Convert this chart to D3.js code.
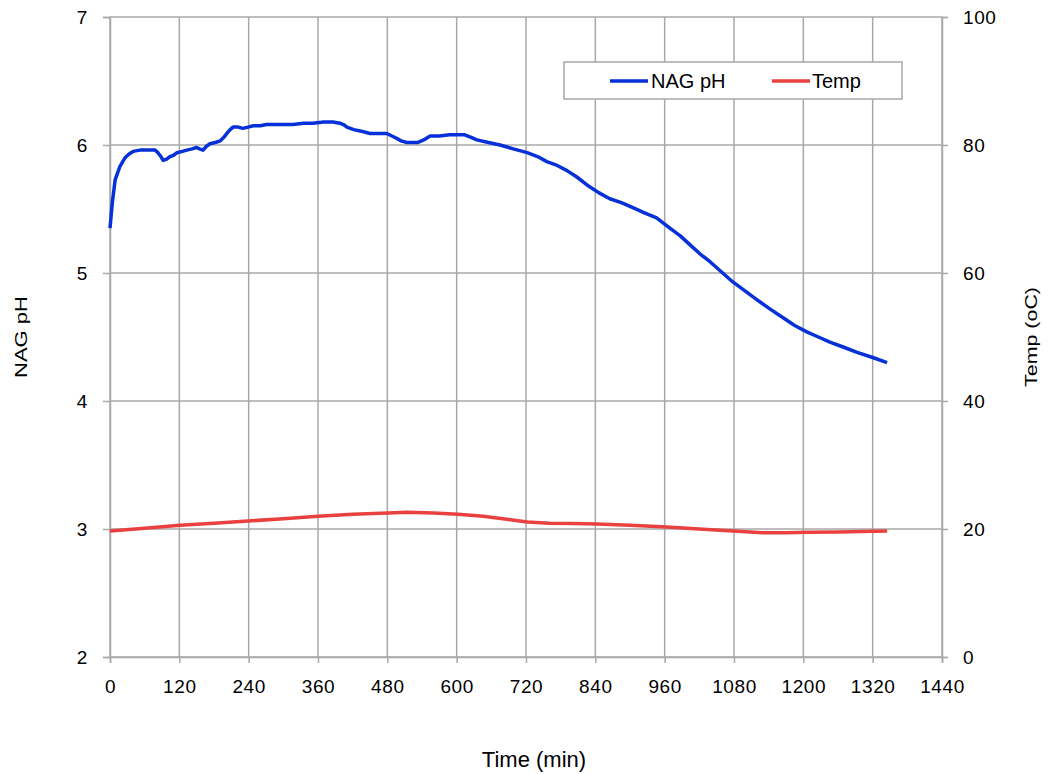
<!DOCTYPE html>
<html><head><meta charset="utf-8">
<script src="https://cdn.jsdelivr.net/npm/d3@7/dist/d3.min.js"></script>
<style>body{margin:0;background:#fff;}svg{font-family:"Liberation Sans",Arial,sans-serif;}</style>
</head><body><svg id="c" width="1048" height="774"></svg>
<script>
const phTime = [0,4,9,13,17,22,26,33,40,52,65,78,83,88,92,98,104,110,116,125,133,142,150,155,161,167,173,182,190,197,204,208,213,222,230,239,248,260,271,282,300,317,335,351,370,386,398,404,410,422,433,442,450,465,479,488,497,505,514,524,533,543,554,570,588,600,614,625,635,655,675,698,722,740,756,774,791,808,825,845,865,885,905,925,946,969,987,1004,1021,1038,1058,1078,1099,1120,1142,1165,1185,1206,1226,1246,1270,1293,1320,1345];
const phValues = [5.35,5.55,5.73,5.78,5.83,5.87,5.90,5.93,5.95,5.96,5.96,5.96,5.94,5.91,5.88,5.89,5.91,5.92,5.94,5.95,5.96,5.97,5.98,5.97,5.96,5.99,6.01,6.02,6.03,6.06,6.10,6.12,6.14,6.14,6.13,6.14,6.15,6.15,6.16,6.16,6.16,6.16,6.17,6.17,6.18,6.18,6.17,6.16,6.14,6.12,6.11,6.10,6.09,6.09,6.09,6.07,6.05,6.03,6.02,6.02,6.02,6.04,6.07,6.07,6.08,6.08,6.08,6.06,6.04,6.02,6.00,5.97,5.94,5.91,5.87,5.84,5.80,5.75,5.69,5.63,5.58,5.55,5.51,5.47,5.43,5.35,5.29,5.22,5.15,5.09,5.01,4.93,4.86,4.79,4.72,4.65,4.59,4.54,4.50,4.46,4.42,4.38,4.34,4.30];
const tempTime = [0,60,121,180,239,300,360,420,481,514,560,602,646,690,722,761,800,843,900,964,1020,1078,1130,1170,1206,1260,1300,1345];
const tempValues = [19.7,20.1,20.6,20.9,21.25,21.6,22.0,22.3,22.5,22.6,22.5,22.3,22.0,21.5,21.1,20.9,20.85,20.8,20.6,20.3,20.0,19.7,19.4,19.4,19.5,19.55,19.6,19.7];
const xTicks = [0,120,240,360,480,600,720,840,960,1080,1200,1320,1440];
const phTicks = [2,3,4,5,6,7];
const tempTicks = [0,20,40,60,80,100];

const svg = d3.select("#c");
const L=110,R=942,T=17,B=657;
const x = d3.scaleLinear().domain([0,1440]).range([L,R]);
const yL = d3.scaleLinear().domain([2,7]).range([B,T]);
const yR = d3.scaleLinear().domain([0,100]).range([B,T]);
const grid="#a8a8a8";
const blue="#0630d8", red="#e8413f";

const g = svg.append("g");
g.selectAll(".vg").data(xTicks).join("line").attr("x1",d=>x(d)).attr("x2",d=>x(d)).attr("y1",T).attr("y2",B).attr("stroke",grid).attr("stroke-width",1.5);
g.selectAll(".hg").data(phTicks).join("line").attr("x1",L).attr("x2",R).attr("y1",d=>yL(d)).attr("y2",d=>yL(d)).attr("stroke",grid).attr("stroke-width",1.5);

const ax = d3.axisBottom(x).tickValues(xTicks).tickSize(6).tickPadding(14).tickFormat(d3.format("d"));
const axL = d3.axisLeft(yL).tickValues(phTicks).tickSize(7).tickPadding(15).tickFormat(d3.format("d"));
const axR = d3.axisRight(yR).tickValues(tempTicks).tickSize(6).tickPadding(15).tickFormat(d3.format("d"));
function style(sel){sel.select(".domain").attr("stroke",grid).attr("stroke-width",1.5);sel.selectAll(".tick line").attr("stroke",grid).attr("stroke-width",1.5);sel.selectAll("text").attr("font-size",19).attr("letter-spacing","0.6px").attr("fill","#000").attr("font-family","Liberation Sans, Arial, sans-serif");}
const gx = svg.append("g").attr("transform",`translate(0,${B})`).call(ax).call(style);
gx.selectAll("text").attr("dy","0").attr("y",36);
svg.append("g").attr("transform",`translate(${L},0)`).call(axL).call(style);
svg.append("g").attr("transform",`translate(${R},0)`).call(axR).call(style);

const lineL = d3.line().x(d=>x(d[0])).y(d=>yL(d[1]));
const lineR = d3.line().x(d=>x(d[0])).y(d=>yR(d[1]));
svg.append("path").datum(tempTime.map((t,i)=>[t,tempValues[i]])).attr("d",lineR).attr("fill","none").attr("stroke",red).attr("stroke-width",3.5).attr("stroke-linejoin","round");
svg.append("path").datum(phTime.map((t,i)=>[t,phValues[i]])).attr("d",lineL).attr("fill","none").attr("stroke",blue).attr("stroke-width",3.5).attr("stroke-linejoin","round");

svg.append("text").attr("x",534).attr("y",767).attr("text-anchor","middle").attr("font-size",22).text("Time (min)");
svg.append("text").attr("transform","translate(27,337) rotate(-90)").attr("text-anchor","middle").attr("font-size",16.5).attr("textLength",82).attr("lengthAdjust","spacingAndGlyphs").text("NAG pH");
svg.append("text").attr("transform","translate(1037,337) rotate(-90)").attr("text-anchor","middle").attr("font-size",16.5).attr("textLength",100).attr("lengthAdjust","spacingAndGlyphs").text("Temp (oC)");

const lg = svg.append("g");
lg.append("rect").attr("x",564).attr("y",62).attr("width",338).attr("height",37).attr("fill","#fff").attr("stroke",grid).attr("stroke-width",1.5);
lg.append("line").attr("x1",610).attr("x2",648).attr("y1",81).attr("y2",81).attr("stroke",blue).attr("stroke-width",3.5);
lg.append("text").attr("x",651).attr("y",88).attr("font-size",20).text("NAG pH");
lg.append("line").attr("x1",772).attr("x2",810).attr("y1",81).attr("y2",81).attr("stroke",red).attr("stroke-width",3.5);
lg.append("text").attr("x",812).attr("y",88).attr("font-size",20).text("Temp");
</script></body></html>
